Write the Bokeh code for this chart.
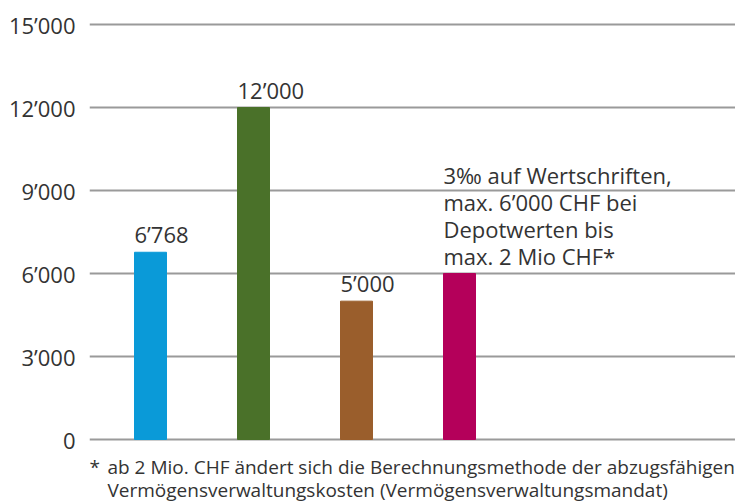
from bokeh.plotting import figure
from bokeh.models import Range1d, FixedTicker, ColumnDataSource
from bokeh.core.properties import value
from bokeh.embed import file_html
from bokeh.resources import INLINE

# data
categories = ["A", "B", "C", "D"]
values = [6768, 12000, 5000, 6000]
colors = ["#0A9AD8", "#4A7129", "#9A5E2C", "#B4005A"]
bar_labels = ["6’768", "12’000", "5’000",
              "3‰ auf Wertschriften,\nmax. 6’000 CHF bei\nDepotwerten bis\nmax. 2 Mio CHF*"]
tick_values = [0, 3000, 6000, 9000, 12000, 15000]
tick_labels = ["0", "3’000", "6’000", "9’000", "12’000", "15’000"]
footnote_mark = "*"
footnote_lines = ["ab 2 Mio. CHF ändert sich die Berechnungsmethode der abzugsfähigen",
                  "Vermögensverwaltungskosten (Vermögensverwaltungsmandat)"]

W, H = 735, 502
left = 89
px_per_unit = 103.0
px_per_val = 415.0 / 15000
x0 = 1 - (150 - 89) / px_per_unit
x1 = x0 + (W - left) / px_per_unit
y1 = 439 / px_per_val
y0 = -(H - 439) / px_per_val

FONT = "Open Sans"
TXT = "#333333"

p = figure(width=W, height=H, output_backend="svg", toolbar_location=None,
           x_range=Range1d(x0, x1), y_range=Range1d(y0, y1),
           min_border_left=left, min_border_right=0, min_border_top=0, min_border_bottom=0)
p.outline_line_color = None
p.background_fill_color = "white"
p.border_fill_color = "white"
p.xaxis.visible = False
p.xgrid.visible = False

ya = p.yaxis[0]
ya.ticker = FixedTicker(ticks=tick_values)
ya.major_label_overrides = {v: l for v, l in zip(tick_values, tick_labels)}
ya.axis_line_color = None
ya.major_tick_line_color = None
ya.minor_tick_line_color = None
ya.major_label_standoff = 8
ya.major_label_text_font = FONT
ya.major_label_text_font_size = "22px"
ya.major_label_text_color = TXT

p.ygrid.ticker = FixedTicker(ticks=tick_values)
p.ygrid.grid_line_color = "#9a9a9a"
p.ygrid.grid_line_width = 2

xs = [i + 1 for i in range(len(categories))]
bw = 32 / px_per_unit
src = ColumnDataSource(dict(x=xs, top=values, color=colors))
p.vbar(x="x", top="top", width=bw, bottom=0, color="color", source=src)

# labels (left aligned at bar left edge)
lab = ColumnDataSource(dict(x=[x - bw / 2 for x in xs],
                            y=[v + 3 / px_per_val for v in values],
                            text=bar_labels))
p.text(x="x", y="y", text="text", source=lab, text_align="left", text_baseline="bottom",
       text_font=value(FONT), text_font_size="22px", text_color=TXT, text_line_height=0.9)

# footnote
fy1 = -(466 - 439) / px_per_val
fy2 = -(489 - 439) / px_per_val
p.text(x=[x0 + 0 / px_per_unit], y=[fy1], text=[footnote_mark], text_align="left",
       text_baseline="middle", text_font=value(FONT), text_font_size="19px", text_color=TXT)
p.text(x=[x0 + 18 / px_per_unit] * 2, y=[fy1, fy2], text=footnote_lines, text_align="left",
       text_baseline="middle", text_font=value(FONT), text_font_size="19px", text_color=TXT)

open("out.html", "w").write(file_html(p, INLINE))
